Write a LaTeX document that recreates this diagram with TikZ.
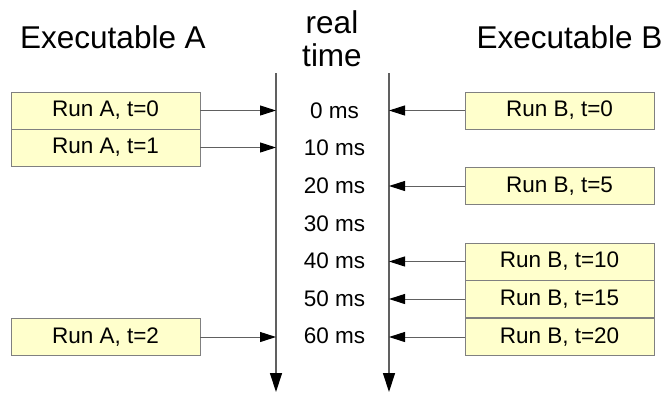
\documentclass[tikz,border=0pt]{standalone}
\usepackage{fontspec}
\setmainfont{Liberation Sans}
\usetikzlibrary{arrows.meta}
\definecolor{boxfill}{HTML}{FFFFCC}
\definecolor{boxline}{HTML}{808080}
\definecolor{linegray}{HTML}{606060}
\begin{document}
\begin{tikzpicture}[x=1pt,y=-1pt,
  runbox/.style={draw=boxline,fill=boxfill,line width=0.9pt,minimum width=189pt,minimum height=37pt,inner sep=0pt,font=\fontsize{22.5}{27}\selectfont},
  msl/.style={font=\fontsize{22.5}{27}\selectfont,inner sep=0pt},
  title/.style={font=\fontsize{31.5}{36}\selectfont,inner sep=0pt,anchor=base},
  hconn/.style={draw=linegray,line width=1pt,-{Triangle[length=16pt,width=10pt,color=black]}},
  tline/.style={draw=linegray,line width=1.3pt,-{Triangle[length=19pt,width=12pt,color=black]}}]
\useasboundingbox (0,0) rectangle (667,392);
% titles
\node[title] (ta) at (113,48.7) {Executable A};
\node[title] (tb) at (569.5,48.7) {Executable B};
\node[title] (tr1) at (332,33.3) {real};
\node[title] (tr2) at (332,66.3) {time};
% timelines
\coordinate (ltop) at (276,73);
\coordinate (lbot) at (276,392);
\coordinate (rtop) at (389,73);
\coordinate (rbot) at (389,392);
\draw[tline] (ltop) -- (lbot);
\draw[tline] (rtop) -- (rbot);
% ms labels
\foreach \k/\t in {0/0,1/10,2/20,3/30,4/40,5/50,6/60}
  \node[msl] (ms\k) at (334.5,110.5+37.6*\k) {\t\ ms};
% A boxes
\node[runbox] (a0) at (105.5,110.5) {Run A, t=0};
\node[runbox] (a1) at (105.5,147.5) {Run A, t=1};
\node[runbox] (a2) at (105.5,337) {Run A, t=2};
% B boxes
\node[runbox] (b0) at (559.5,110.5) {Run B, t=0};
\node[runbox] (b5) at (559.5,186) {Run B, t=5};
\node[runbox] (b10) at (559.5,261.5) {Run B, t=10};
\node[runbox] (b15) at (559.5,299) {Run B, t=15};
\node[runbox] (b20) at (559.5,337) {Run B, t=20};
% connectors
\foreach \n in {a0,a1,a2}
  \draw[hconn] (\n.east) -- (\n.east -| ltop);
\foreach \n in {b0,b5,b10,b15,b20}
  \draw[hconn] (\n.west) -- (\n.west -| rtop);
\end{tikzpicture}
\end{document}
